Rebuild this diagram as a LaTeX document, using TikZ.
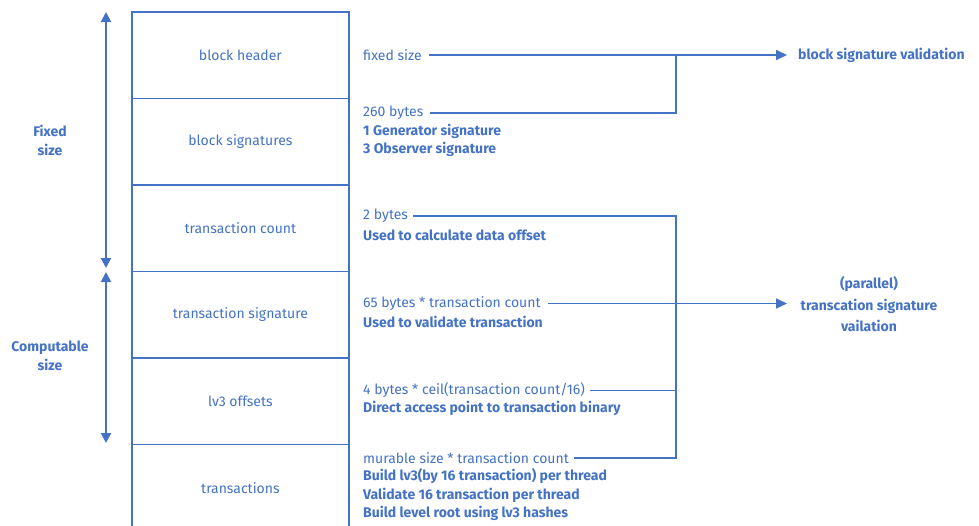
\documentclass[tikz,border=0pt]{standalone}
\usepackage{fontspec}
\setmainfont{Fira Sans}
\usetikzlibrary{arrows.meta}
\definecolor{cb}{RGB}{68,114,196}
\begin{document}
\begin{tikzpicture}[x=1pt,y=-1pt,
  every node/.style={text=cb,font=\fontsize{14}{16}\selectfont,inner sep=0pt},
  seg/.style={draw=cb,line width=1.8pt,minimum width=217pt,minimum height=86.5pt,anchor=north west,inner sep=0pt},
  lbl/.style={anchor=west},
  bl/.style={anchor=west,font=\fontsize{14}{16}\selectfont\bfseries},
  conn/.style={draw=cb,line width=1.6pt},
  arr/.style={conn,-{Triangle[length=11pt,width=10pt]}},
  darr/.style={draw=cb,line width=2pt,{Triangle[length=10pt,width=10pt]}-{Triangle[length=10pt,width=10pt]}}]
\useasboundingbox (0,0) rectangle (979,525);
% stacked segments
\node[seg] (s1) at (131,11) {block header};
\node[seg] (s2) at (131,97.5) {block signatures};
\node[seg] (s3) at (131,184) {transaction count};
\node[seg] (s4) at (131,270.5) {transaction signature};
\node[seg] (s5) at (131,357) {lv3 offsets};
\node[seg] (s6) at (131,443.5) {transactions};
% left size arrows
\coordinate (fa) at (106,12);
\coordinate (fb) at (106,268);
\coordinate (ca) at (106,272);
\coordinate (cb2) at (106,443);
\draw[darr] (fa) -- (fb);
\draw[darr] (ca) -- (cb2);
\node[align=center,font=\fontsize{14}{19}\selectfont\bfseries] (fixed) at (50,140.5) {Fixed\\size};
\node[align=center,font=\fontsize{14}{19}\selectfont\bfseries] (comp) at (50,355.5) {Computable\\size};
% descriptions
\node[lbl] (d1) at (363,55) {fixed size};
\node[lbl] (d2) at (363,113) {260 bytes};
\node[bl] (d2a) at (363,131) {1 Generator signature};
\node[bl] (d2b) at (363,149.5) {3 Observer signature};
\node[lbl] (d3) at (363,216) {2 bytes};
\node[bl] (d3a) at (363,235) {Used to calculate data offset};
\node[lbl] (d4) at (363,303.5) {65 bytes * transaction count};
\node[bl] (d4a) at (363,322) {Used to validate transaction};
\node[lbl] (d5) at (363,390.5) {4 bytes * ceil(transaction count/16)};
\node[bl] (d5a) at (363,408.5) {Direct access point to transaction binary};
\node[lbl] (d6) at (363,458) {murable size * transaction count};
\node[bl] (d6a) at (363,476.5) {Build lv3(by 16 transaction) per thread};
\node[bl] (d6b) at (363,495) {Validate 16 transaction per thread};
\node[bl] (d6c) at (363,513.5) {Build level root using lv3 hashes};
% outcomes
\node[bl] (o1) at (798,55) {block signature validation};
\node[align=center,font=\fontsize{14}{21.5}\selectfont\bfseries] (o2) at (869,304.5) {(parallel)\\transcation signature\\vailation};
% connectors
\coordinate (j1) at (676,55);
\coordinate (j2) at (676,216);
\coordinate (j3) at (676,458);
\coordinate (j4) at (676,390.5);
\coordinate (t1) at (787,55);
\coordinate (t2) at (787,303.5);
\draw[arr] ([xshift=7pt]d1.east) -- (t1);
\draw[conn] ([xshift=7pt]d2.east) -| (j1);
\draw[conn] ([xshift=5pt]d3.east) -- (j2) -- (j3) -- ([xshift=5pt]d6.east);
\draw[conn] ([xshift=5pt]d5.east) -- (j4);
\draw[arr] ([xshift=7pt]d4.east) -- (t2);
\end{tikzpicture}
\end{document}
